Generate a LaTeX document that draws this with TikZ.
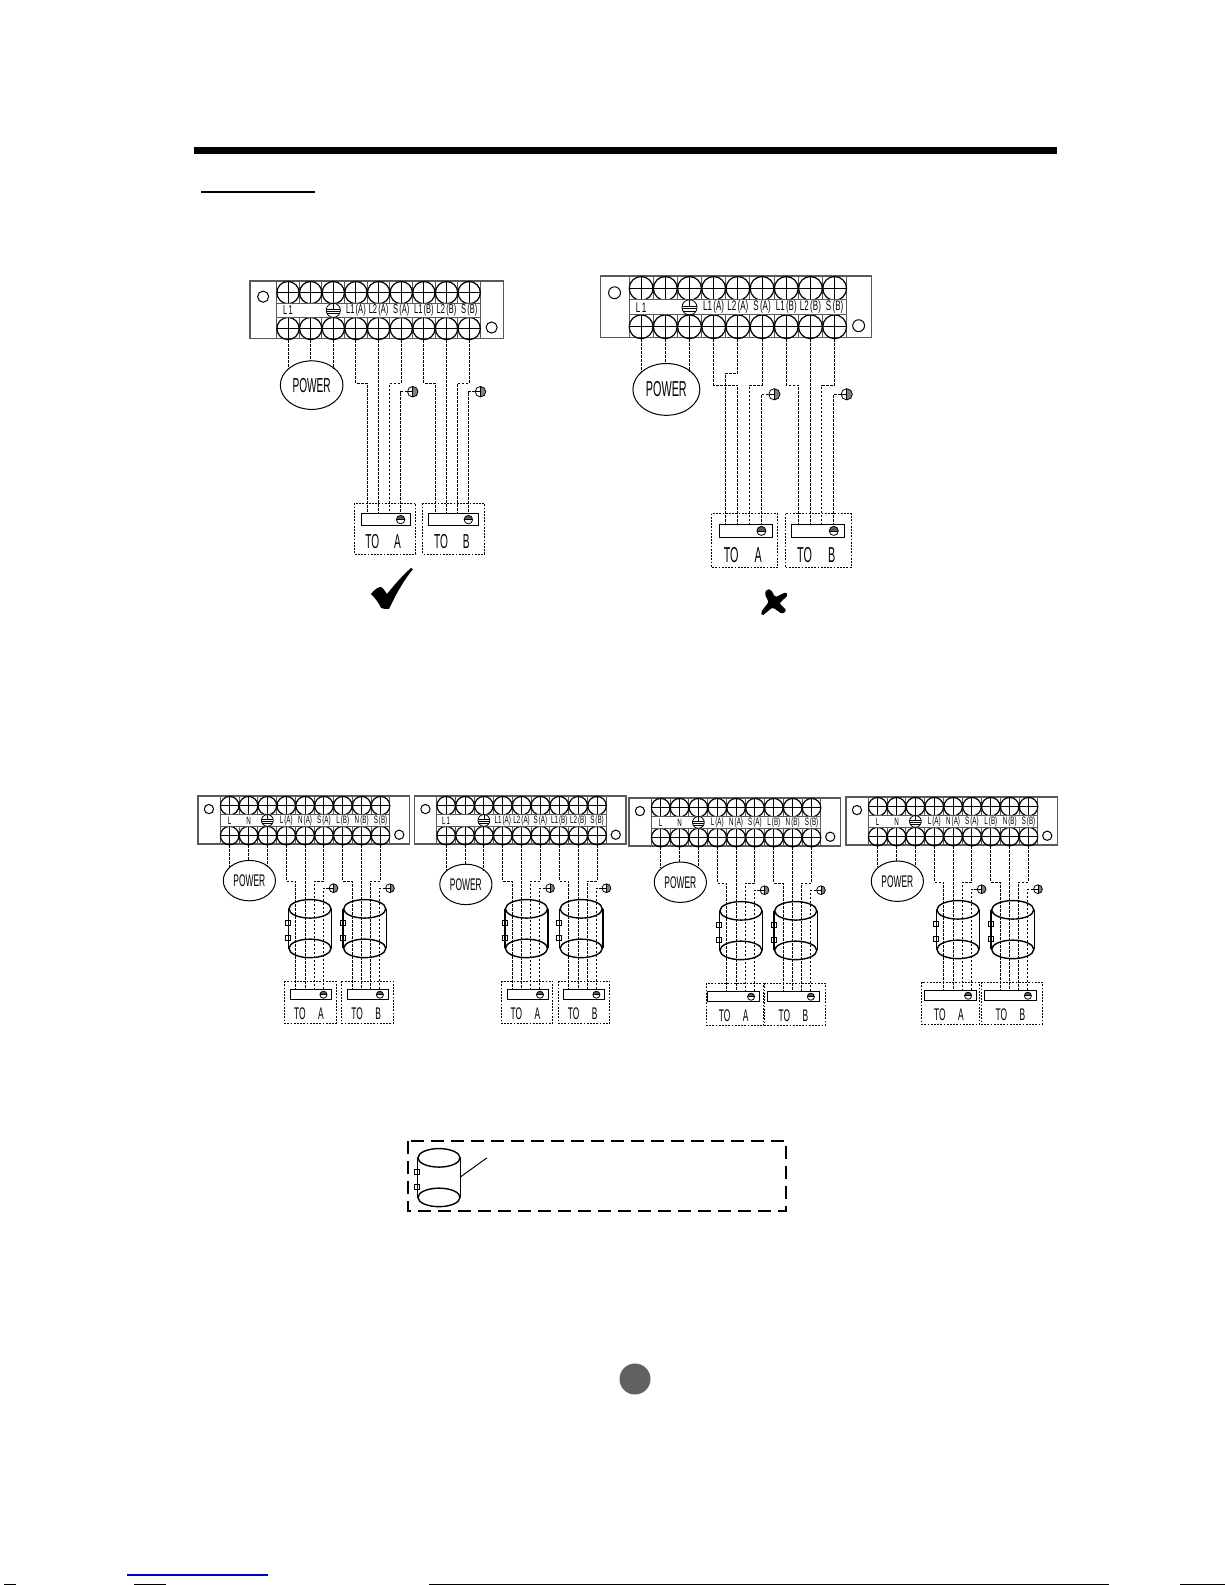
\documentclass[tikz,border=0pt]{standalone}
\usepackage{fontspec}
\setmainfont{Liberation Sans}
\usetikzlibrary{shapes.geometric}
\definecolor{framegray}{gray}{0.35}
\tikzstyle{blockframe} = [draw=framegray, line width=.7pt, rectangle, inner sep=0pt, outer sep=0pt, anchor=north west]
\tikzstyle{stripbox} = [draw=framegray, line width=.5pt, rectangle, inner sep=0pt, outer sep=0pt, anchor=north west, minimum width=100.8pt, minimum height=7pt]
\tikzstyle{cell} = [draw=framegray, line width=.5pt]
\tikzstyle{screw} = [draw, circle, line width=.6pt, inner sep=0pt, minimum size=11pt, path picture={\draw[line width=.5pt] (path picture bounding box.north)--(path picture bounding box.south) (path picture bounding box.west)--(path picture bounding box.east);}]
\tikzstyle{hole} = [draw, circle, line width=.5pt, inner sep=0pt, minimum size=5.5pt]
\tikzstyle{striptext} = [inner sep=0pt, font=\fontsize{6.4}{6.4}\selectfont, xscale=.58]
\tikzstyle{bigtext} = [inner sep=0pt, font=\fontsize{10}{10}\selectfont, xscale=.5]
\tikzstyle{earthmark} = [draw, circle, line width=.4pt, inner sep=0pt, minimum size=7pt, path picture={\draw[line width=.3pt] ([yshift=.7pt]path picture bounding box.west)--([yshift=.7pt]path picture bounding box.east) ([yshift=-.5pt]path picture bounding box.west)--([yshift=-.5pt]path picture bounding box.east) ([yshift=-1.7pt]path picture bounding box.west)--([yshift=-1.7pt]path picture bounding box.east) ([yshift=.7pt]path picture bounding box.center)--(path picture bounding box.north);}]
\tikzstyle{earthball} = [draw, circle, line width=.4pt, inner sep=0pt, minimum size=5.2pt, path picture={\fill[gray] (path picture bounding box.center) rectangle (path picture bounding box.north east); \fill[gray] (path picture bounding box.center) rectangle (path picture bounding box.south east); \draw[line width=.3pt] (path picture bounding box.north)--(path picture bounding box.south) (path picture bounding box.west)--(path picture bounding box.center);}]
\tikzstyle{earthdot} = [draw, circle, line width=.4pt, inner sep=0pt, minimum size=4.2pt, path picture={\fill[gray!70!black] (path picture bounding box.west) rectangle (path picture bounding box.north east); \draw[line width=.3pt] (path picture bounding box.west)--(path picture bounding box.east);}]
\tikzstyle{powerblob} = [draw, ellipse, line width=.5pt, inner sep=0pt, minimum width=31pt, minimum height=24pt]
\tikzstyle{wire} = [line width=.5pt, dash pattern=on 1.3pt off .7pt]
\tikzstyle{dotline} = [line width=.5pt, dash pattern=on .9pt off .7pt]
\tikzstyle{drumend} = [draw, ellipse, line width=.7pt, inner sep=0pt, minimum width=25pt, minimum height=11pt]
\tikzstyle{drumside} = [line width=.7pt]
\tikzstyle{latch} = [draw, rectangle, line width=.5pt, inner sep=0pt, minimum size=3pt]

% block with its screws, #2 = labels of the strip
\newcommand{\termblock}[2]{
  \node[blockframe, minimum width=125.5pt, minimum height=28.5pt] (#1frame) at (0,0) {};
  \node[hole] (#1hl) at (13,15.5) {};
  \node[hole] (#1hr) at (239,46) {};
  \draw[cell] (26.4,0) -- (26.4,57);
  \draw[cell] (228,0) -- (228,57);
  \foreach \i in {1,...,8} {
    \draw[cell] ({26.4+22.4*\i},0) -- ++(0,22);
    \draw[cell] ({26.4+22.4*\i},36) -- ++(0,21);
  }
  \foreach \i in {1,...,9} {
    \node[screw] (#1t\i) at ({37.6+22.4*(\i-1)},11.5) {};
    \node[screw] (#1b\i) at ({37.6+22.4*(\i-1)},47) {};
  }
  \node[stripbox, fill=white] (#1strip) at (26.4,22) {};
  \node[earthmark] (#1em) at (82.4,29) {};
  \foreach \i/\txt in {#2} {
    \node[striptext] (#1s\i) at ({37.6+22.4*(\i-1)},29) {\txt};
  }
  \coordinate (#1jog) at (0,101);
}
% power blob and its three wires, #2 = height of the blob
\newcommand{\powerfeed}[2]{
  \node[powerblob] (#1pw) at (61,#2) {};
  \node[bigtext] (#1pwt) at (61,#2) {POWER};
  \draw[wire] (#1b1.south) -- (#1b1.south |- #1pw.145);
  \draw[wire] (#1b2.south) -- (#1b2.south |- #1pw.north);
  \draw[wire] (#1b3.south) -- (#1b3.south |- #1pw.35);
}
% #2 side, #3 #4 frame, #5 #6 inner box, #7 letter, #8 first wire
\newcommand{\terminal}[8]{
  \coordinate (#1#2nw) at (#3,220);
  \coordinate (#1#2se) at (#4,270);
  \coordinate (#1#2inw) at (#5,230);
  \coordinate (#1#2ise) at (#6,242);
  \draw[dotline] (#1#2nw) rectangle (#1#2se);
  \draw[line width=.5pt] (#1#2inw) rectangle (#1#2ise);
  \node[earthdot] (#1#2d) at (#6-10,236) {};
  \node[bigtext] (#1#2to) at ({(#3+#4)/2-12.5},258) {TO};
  \node[bigtext] (#1#2le) at ({(#3+#4)/2+12.5},258) {#7};
  \node[earthball] (#1#2e) at (#8+45,109.5) {};
  \coordinate (#1#2w1) at (#8,230);
  \coordinate (#1#2w2) at (#8+11,230);
  \coordinate (#1#2w3) at (#8+22,230);
  \coordinate (#1#2w4) at (#8+33,230);
  \draw[wire] (#1#2e.west) -| (#1#2w4);
}
% straight run of the three wires of a side
\newcommand{\feeders}[5]{
  \draw[wire] (#1b#3.south) |- (#1#2w1 |- #1jog) -- (#1#2w1);
  \draw[wire] (#1b#4.south) -- (#1b#4.south |- #1#2w2);
  \draw[wire] (#1b#5.south) |- (#1#2w3 |- #1jog) -- (#1#2w3);
}
\newcommand{\drum}[2]{
  \node[drumend] (#1top) at (#2,134) {};
  \node[drumend] (#1bot) at (#2,181) {};
  \draw[drumside] (#1top.west) -- (#1bot.west);
  \draw[drumside] (#1top.east) -- (#1bot.east);
  \node[latch] (#1la) at (#2-26,151) {};
  \node[latch] (#1lb) at (#2-26,169) {};
}
\begin{document}
\begin{tikzpicture}[x=.5pt,y=-.5pt]
  \useasboundingbox (0,0) rectangle (1225,1585);
  \fill (194,147) rectangle (1057,154);
  \coordinate (ulstart) at (201,192);
  \coordinate (ulend) at (315,192);
  \draw[line width=.6pt] (ulstart) -- (ulend);

  % good wiring
  \begin{scope}[shift={(250,281)},scale=1.011,transform shape]
    \termblock{g}{1/L\,1,4/L1\,(A),5/L2\,(A),6/S\,(A),7/L1\,(B),8/L2\,(B),9/S\,(B)}
    \powerfeed{g}{103}
    \terminal{g}{A}{103}{164}{110}{159}{A}{116}
    \terminal{g}{B}{171}{232}{177}{226}{B}{183}
    \feeders{g}{A}{4}{5}{6}
    \feeders{g}{B}{7}{8}{9}
  \end{scope}
  \fill (371,594) .. controls (375,589) and (378,587) .. (381,587) .. controls (383,588) and (385,591) .. (387,594) .. controls (395,584) and (403,575) .. (411,568) -- (413,569) .. controls (404,580) and (396,594) .. (389,609) .. controls (386,609) and (384,609) .. (381,608) .. controls (379,603) and (375,598) .. (371,594) -- cycle;

  % crossed wiring
  \begin{scope}[shift={(600.5,276)},scale=1.08,transform shape]
    \termblock{w}{1/L\,1,4/L1\,(A),5/L2\,(A),6/S\,(A),7/L1\,(B),8/L2\,(B),9/S\,(B)}
    \powerfeed{w}{105}
    \terminal{w}{A}{103}{164}{110}{159}{A}{116}
    \terminal{w}{B}{171}{232}{177}{226}{B}{183}
    \coordinate (wjogb) at (0,90);
    \draw[wire] (wb4.south) |- (wAw2 |- wjog) -- (wAw2);
    \draw[wire] (wb5.south) |- (wAw1 |- wjogb) -- (wAw1);
    \draw[wire] (wb6.south) |- (wAw3 |- wjog) -- (wAw3);
    \feeders{w}{B}{7}{8}{9}
  \end{scope}
  \fill[rounded corners=.8pt] (766.7,589.3) -- (770.7,589.3) -- (775.3,597.3) -- (786,592) -- (788,595.3) -- (779.3,603.3) -- (786.7,610.7) -- (782,614) -- (772.7,607.3) -- (762,616) -- (761,612) -- (768.7,602) -- (764.7,594) -- cycle;

  % with drums
  \begin{scope}[shift={(198,796)},scale=.842,transform shape]
    \termblock{p}{1/L,2/N,4/L\,(A),5/N\,(A),6/S\,(A),7/L\,(B),8/N\,(B),9/S\,(B)}
    \powerfeed{p}{100.5}
    \drum{pa}{133}
    \drum{pb}{198}
    \terminal{p}{A}{103}{164}{110}{159}{A}{116}
    \terminal{p}{B}{171}{232}{177}{226}{B}{183}
    \feeders{p}{A}{4}{5}{6}
    \feeders{p}{B}{7}{8}{9}
  \end{scope}
  \begin{scope}[shift={(414.5,796)},scale=.842,transform shape]
    \termblock{q}{1/L\,1,4/L1\,(A),5/L2\,(A),6/S\,(A),7/L1\,(B),8/L2\,(B),9/S\,(B)}
    \powerfeed{q}{105}
    \drum{qa}{133}
    \drum{qb}{198}
    \terminal{q}{A}{103}{164}{110}{159}{A}{116}
    \terminal{q}{B}{171}{232}{177}{226}{B}{183}
    \feeders{q}{A}{4}{5}{6}
    \feeders{q}{B}{7}{8}{9}
  \end{scope}
  \begin{scope}[shift={(629,798)},scale=.842,transform shape]
    \termblock{r}{1/L,2/N,4/L\,(A),5/N\,(A),6/S\,(A),7/L\,(B),8/N\,(B),9/S\,(B)}
    \powerfeed{r}{100}
    \drum{ra}{133}
    \drum{rb}{198}
    \terminal{r}{A}{92}{160}{93}{155}{A}{116}
    \terminal{r}{B}{161}{233}{164}{226}{B}{183}
    \feeders{r}{A}{4}{5}{6}
    \feeders{r}{B}{7}{8}{9}
  \end{scope}
  \begin{scope}[shift={(846,797)},scale=.842,transform shape]
    \termblock{s}{1/L,2/N,4/L\,(A),5/N\,(A),6/S\,(A),7/L\,(B),8/N\,(B),9/S\,(B)}
    \powerfeed{s}{100}
    \drum{sa}{133}
    \drum{sb}{198}
    \terminal{s}{A}{90}{158}{93}{155}{A}{116}
    \terminal{s}{B}{161}{233}{164}{226}{B}{183}
    \feeders{s}{A}{4}{5}{6}
    \feeders{s}{B}{7}{8}{9}
  \end{scope}

  % legend
  \draw[line width=.8pt, dash pattern=on 6.5pt off 3.5pt] (408,1141) rectangle (786,1211);
  \begin{scope}[shift={(327,1045)},scale=.842,transform shape]
    \drum{lg}{133}
    \coordinate (lgside) at (158,157);
    \coordinate (lgtip) at (190,134);
    \draw[line width=.5pt] (lgside) -- (lgtip);
  \end{scope}

  \node[fill=black!62, circle, inner sep=0pt, minimum size=15.5pt] (pagemark) at (635,1379) {};

  % remains at the foot of the page
  \draw[color=blue!80!black, line width=.7pt] (127,1575) -- (268,1575);
  \draw[line width=.5pt] (429,1584.5) -- (1109,1584.5);
  \draw[line width=.5pt] (134,1584.5) -- (166,1584.5);
  \draw[line width=.5pt] (4,1584.5) -- (16,1584.5);
  \draw[line width=.5pt] (1180,1584.5) -- (1225,1584.5);
\end{tikzpicture}
\end{document}
